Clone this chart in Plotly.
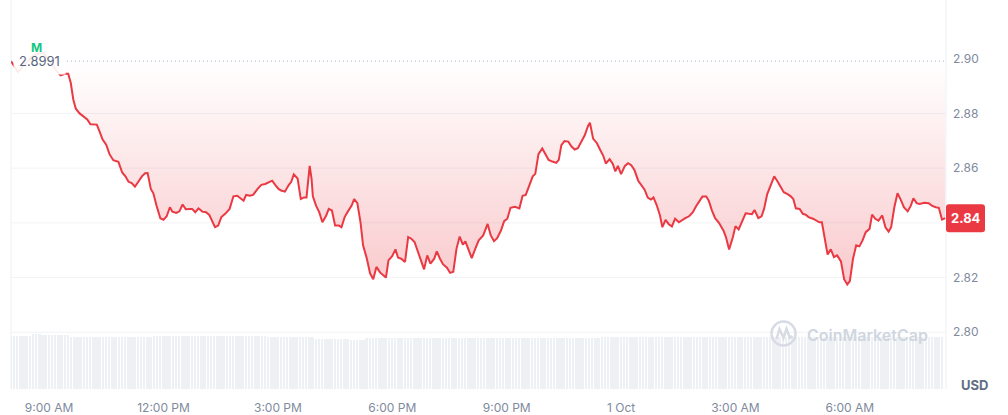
import datetime as dt
import plotly.graph_objects as go

# ---------------- data ----------------
start_time = dt.datetime(2024, 9, 30, 8, 0)
open_price = 2.8991          # 24h reference price (dotted baseline)

# minutes after 8:00 AM (30 Sep) and price in USD
price_minutes = [
    0, 6, 11, 20, 32, 42, 50, 60, 70, 78,
    85, 90, 94, 98, 102, 108, 114, 120, 125, 131,
    135, 139, 144, 150, 155, 161, 169, 175, 180, 185,
    190, 195, 200, 206, 211, 215, 220, 224, 229, 235,
    240, 245, 250, 254, 260, 265, 270, 275, 281, 285,
    290, 295, 301, 307, 312, 316, 321, 326, 331, 337,
    344, 350, 356, 366, 370, 376, 381, 388, 394, 400,
    406, 411, 416, 421, 425, 431, 437, 441, 445, 451,
    456, 461, 465, 470, 473, 475, 480, 485, 490, 496,
    500, 505, 510, 516, 520, 525, 530, 536, 540, 545,
    550, 554, 560, 565, 570, 575, 581, 586, 590, 594,
    600, 605, 609, 614, 620, 625, 630, 635, 641, 645,
    650, 655, 660, 666, 670, 675, 680, 686, 691, 696,
    701, 706, 711, 715, 720, 725, 731, 736, 743, 750,
    755, 760, 765, 771, 776, 781, 786, 793, 800, 805,
    810, 816, 821, 825, 830, 836, 841, 846, 852, 858,
    862, 866, 871, 877, 882, 887, 892, 898, 903, 908,
    911, 916, 922, 927, 932, 936, 942, 947, 951, 955,
    960, 966, 971, 976, 981, 987, 992, 997, 1002, 1007,
    1011, 1016, 1021, 1025, 1030, 1035, 1040, 1045, 1051, 1056,
    1061, 1067, 1073, 1078, 1083, 1088, 1094, 1098, 1103, 1108,
    1114, 1121, 1125, 1130, 1136, 1140, 1145, 1150, 1156, 1161,
    1166, 1170, 1176, 1181, 1185, 1190, 1195, 1201, 1206, 1211,
    1216, 1222, 1227, 1231, 1235, 1241, 1246, 1251, 1255, 1262,
    1267, 1272, 1276, 1280, 1285, 1290, 1295, 1300, 1306, 1311,
    1316, 1320, 1325, 1330, 1335, 1340, 1345, 1351, 1355, 1360,
    1365, 1371, 1376, 1381, 1385, 1390, 1395, 1400, 1405, 1411,
    1416, 1420, 1425, 1430, 1437, 1444, 1449, 1455, 1460, 1465,
    1470,
]
price_values = [
    2.8991, 2.8970, 2.8951, 2.8975, 2.9005, 2.9018, 2.9022, 2.8995, 2.8960, 2.8939,
    2.8945, 2.8945, 2.8912, 2.8851, 2.8817, 2.8800, 2.8790, 2.8778, 2.8760, 2.8758,
    2.8759, 2.8736, 2.8705, 2.8685, 2.8651, 2.8629, 2.8623, 2.8584, 2.8570, 2.8550,
    2.8545, 2.8532, 2.8550, 2.8570, 2.8581, 2.8582, 2.8524, 2.8508, 2.8463, 2.8417,
    2.8411, 2.8424, 2.8457, 2.8441, 2.8436, 2.8442, 2.8467, 2.8450, 2.8451, 2.8451,
    2.8439, 2.8453, 2.8441, 2.8439, 2.8429, 2.8408, 2.8384, 2.8390, 2.8421, 2.8433,
    2.8451, 2.8497, 2.8499, 2.8481, 2.8502, 2.8499, 2.8502, 2.8524, 2.8539, 2.8542,
    2.8548, 2.8554, 2.8538, 2.8524, 2.8518, 2.8514, 2.8538, 2.8550, 2.8577, 2.8562,
    2.8487, 2.8493, 2.8493, 2.8608, 2.8560, 2.8497, 2.8463, 2.8439, 2.8402, 2.8427,
    2.8451, 2.8445, 2.8390, 2.8390, 2.8384, 2.8421, 2.8441, 2.8463, 2.8487, 2.8472,
    2.8402, 2.8318, 2.8269, 2.8215, 2.8194, 2.8239, 2.8218, 2.8208, 2.8200, 2.8263,
    2.8279, 2.8303, 2.8273, 2.8269, 2.8257, 2.8348, 2.8342, 2.8330, 2.8293, 2.8261,
    2.8230, 2.8281, 2.8251, 2.8269, 2.8296, 2.8269, 2.8248, 2.8236, 2.8217, 2.8221,
    2.8305, 2.8350, 2.8320, 2.8332, 2.8305, 2.8271, 2.8308, 2.8336, 2.8354, 2.8396,
    2.8354, 2.8333, 2.8344, 2.8372, 2.8406, 2.8415, 2.8455, 2.8459, 2.8453, 2.8499,
    2.8502, 2.8542, 2.8570, 2.8579, 2.8651, 2.8672, 2.8651, 2.8630, 2.8624, 2.8619,
    2.8630, 2.8684, 2.8699, 2.8697, 2.8679, 2.8668, 2.8673, 2.8702, 2.8721, 2.8754,
    2.8766, 2.8708, 2.8691, 2.8667, 2.8645, 2.8617, 2.8633, 2.8615, 2.8588, 2.8608,
    2.8578, 2.8608, 2.8618, 2.8611, 2.8593, 2.8554, 2.8538, 2.8521, 2.8492, 2.8485,
    2.8493, 2.8465, 2.8429, 2.8384, 2.8411, 2.8395, 2.8387, 2.8415, 2.8402, 2.8410,
    2.8417, 2.8424, 2.8439, 2.8461, 2.8478, 2.8496, 2.8496, 2.8481, 2.8445, 2.8417,
    2.8400, 2.8372, 2.8348, 2.8303, 2.8348, 2.8388, 2.8376, 2.8402, 2.8435, 2.8433,
    2.8432, 2.8447, 2.8417, 2.8424, 2.8451, 2.8505, 2.8536, 2.8570, 2.8552, 2.8533,
    2.8512, 2.8505, 2.8497, 2.8487, 2.8453, 2.8451, 2.8433, 2.8429, 2.8421, 2.8415,
    2.8408, 2.8402, 2.8402, 2.8354, 2.8284, 2.8303, 2.8275, 2.8281, 2.8259, 2.8194,
    2.8175, 2.8187, 2.8269, 2.8318, 2.8314, 2.8336, 2.8366, 2.8378, 2.8430, 2.8415,
    2.8408, 2.8427, 2.8384, 2.8368, 2.8384, 2.8457, 2.8508, 2.8485, 2.8457, 2.8442,
    2.8463, 2.8490, 2.8472, 2.8469, 2.8473, 2.8472, 2.8463, 2.8457, 2.8455, 2.8412,
    2.8417,
]

# 24h volume bars, one every 5 minutes (millions USD), one row per hour
volume_step_minutes = 5
volume_values = [
    10.30, 10.30, 10.30, 10.30, 10.30, 10.30, 10.30, 10.56, 10.56, 10.56, 10.42, 10.42,
    10.42, 10.42, 10.42, 10.42, 10.42, 10.42, 10.42, 10.12, 10.12, 10.12, 10.12, 10.12,
    10.12, 10.12, 10.12, 10.12, 10.12, 10.12, 9.98, 9.98, 9.98, 9.98, 9.98, 9.98,
    9.98, 9.98, 9.98, 9.98, 9.98, 9.98, 9.98, 9.98, 9.98, 10.30, 10.30, 10.30,
    10.30, 10.30, 10.30, 10.30, 10.30, 10.30, 10.30, 10.30, 10.30, 10.30, 10.30, 10.30,
    10.30, 10.30, 10.30, 10.30, 10.30, 10.30, 10.30, 10.30, 10.30, 10.30, 10.30, 10.30,
    10.30, 10.30, 10.30, 10.30, 10.30, 10.30, 10.30, 10.30, 10.30, 10.12, 10.12, 10.12,
    10.12, 10.12, 10.12, 10.12, 10.12, 10.12, 10.12, 10.12, 10.12, 10.12, 10.12, 10.12,
    9.65, 9.65, 9.65, 9.65, 9.65, 9.65, 9.65, 9.65, 9.65, 9.65, 9.65, 9.46,
    9.46, 9.46, 9.46, 9.46, 9.79, 9.79, 9.79, 9.79, 9.79, 9.79, 9.79, 9.79,
    9.79, 9.79, 9.79, 9.79, 9.79, 9.79, 9.79, 9.79, 9.79, 9.79, 9.79, 9.79,
    9.79, 9.79, 9.79, 9.79, 9.79, 9.79, 9.79, 9.79, 9.79, 9.79, 9.79, 9.79,
    9.79, 9.79, 9.79, 9.79, 9.79, 9.79, 9.79, 9.79, 9.79, 9.79, 9.92, 9.92,
    9.92, 9.92, 9.92, 9.92, 9.92, 9.92, 9.92, 9.92, 9.92, 9.92, 9.92, 9.92,
    9.92, 9.92, 9.92, 9.92, 9.92, 9.92, 9.92, 9.92, 9.92, 9.92, 9.92, 9.92,
    9.92, 9.92, 9.92, 9.92, 9.92, 9.92, 10.12, 10.12, 10.12, 10.12, 10.12, 10.12,
    10.12, 10.12, 10.12, 10.12, 10.12, 10.12, 10.12, 10.12, 10.12, 10.12, 10.12, 10.12,
    10.12, 10.12, 10.12, 10.12, 10.12, 10.12, 10.12, 10.12, 10.12, 10.12, 10.12, 10.12,
    10.12, 10.12, 10.12, 10.12, 10.12, 10.12, 9.98, 9.98, 9.98, 9.98, 9.98, 9.98,
    9.98, 9.98, 9.98, 9.98, 9.98, 9.98, 9.98, 9.98, 9.98, 9.98, 9.98, 9.98,
    9.98, 9.98, 9.98, 9.98, 9.98, 9.98, 9.98, 9.98, 9.98, 9.98, 9.98, 9.98,
    9.98, 9.98, 9.98, 9.98, 9.98, 9.98, 9.98, 9.98, 9.98, 9.98, 9.98, 9.98,
    9.98, 9.98, 9.98, 9.98, 9.98, 9.98, 9.98, 9.98, 9.98, 9.98, 9.98, 9.98,
    9.98, 9.98, 9.98, 9.98, 9.98, 9.98, 9.98, 9.98, 9.98, 9.98, 9.98, 9.98,
    9.98, 9.98, 9.98, 9.98, 9.98, 9.98,
]

y_tick_values = [2.80, 2.82, 2.84, 2.86, 2.88, 2.90]
y_grid_values = [2.80, 2.82, 2.84, 2.86, 2.88]
x_tick_times = ["2024-09-30 09:00", "2024-09-30 12:00", "2024-09-30 15:00",
                "2024-09-30 18:00", "2024-09-30 21:00", "2024-10-01 00:00",
                "2024-10-01 03:00", "2024-10-01 06:00"]
x_tick_labels = ["9:00 AM", "12:00 PM", "3:00 PM", "6:00 PM", "9:00 PM",
                 "1 Oct", "3:00 AM", "6:00 AM"]

# ---------------- styling ----------------
RED = "#ea3943"
GREEN = "#16c784"
AXIS_TXT = "#808a9d"
DARK_TXT = "#58667e"
GRID = "#f1f3f6"
FONT = "Inter, Roboto, sans-serif"

price_times = [start_time + dt.timedelta(minutes=m) for m in price_minutes]
volume_times = [start_time + dt.timedelta(minutes=volume_step_minutes * i)
                for i in range(len(volume_values))]

y_min, y_max = 2.77927, 2.92145
x_end = start_time + dt.timedelta(minutes=1471.3)
last_val = price_values[-1]

fig = go.Figure()

# volume bars (secondary axis)
fig.add_trace(go.Bar(
    x=volume_times, y=volume_values, yaxis="y2",
    marker=dict(color="#eef1f4", line=dict(width=0)),
    width=volume_step_minutes * 60 * 1000 * 0.62,
    hoverinfo="skip", showlegend=False,
))

# invisible baseline for the fill
fig.add_trace(go.Scatter(
    x=price_times, y=[open_price] * len(price_times), mode="lines",
    line=dict(width=0, color="rgba(0,0,0,0)"), hoverinfo="skip", showlegend=False,
))

# price line with gradient fill to the baseline
fig.add_trace(go.Scatter(
    x=price_times, y=price_values, mode="lines",
    line=dict(color=RED, width=2),
    fill="tonexty",
    fillgradient=dict(
        type="vertical",
        colorscale=[[0, "rgba(234,57,67,0.27)"], [1, "rgba(234,57,67,0.0)"]],
        start=min(price_values), stop=open_price,
    ),
    hoverinfo="skip", showlegend=False,
))

shapes = []
for g in y_grid_values:
    shapes.append(dict(type="line", xref="paper", yref="y", x0=0, x1=1, y0=g, y1=g,
                       line=dict(color=GRID, width=1), layer="below"))
# plot frame verticals
for xp in (0, 1):
    shapes.append(dict(type="line", xref="paper", yref="paper", x0=xp, x1=xp, y0=0, y1=1,
                       line=dict(color="#eef0f3", width=1), layer="below"))
# dotted open-price line
shapes.append(dict(type="line", xref="paper", yref="y", x0=0, x1=1,
                   y0=open_price, y1=open_price,
                   line=dict(color="#a7b1c2", width=1, dash="1px,3px"), layer="above"))

# last-price tag (rounded red box)
yp = (last_val - y_min) / (y_max - y_min)
r = 3
w, h = 39, 28
box = (f"M {r},{-h/2} L {w-r},{-h/2} Q {w},{-h/2} {w},{-h/2+r} "
       f"L {w},{h/2-r} Q {w},{h/2} {w-r},{h/2} L {r},{h/2} Q 0,{h/2} 0,{h/2-r} "
       f"L 0,{-h/2+r} Q 0,{-h/2} {r},{-h/2} Z")
shapes.append(dict(type="path", xref="paper", yref="paper", xsizemode="pixel",
                   ysizemode="pixel", xanchor=1, yanchor=yp, path=box,
                   fillcolor=RED, line=dict(width=0), layer="above"))

# watermark logo circle + wave
wm_col = "#d6dbe4"
shapes.append(dict(type="circle", xref="paper", yref="paper", xsizemode="pixel",
                   ysizemode="pixel", xanchor=1, yanchor=0,
                   x0=-174.5, x1=-150.5, y0=43.5, y1=67.5,
                   line=dict(color=wm_col, width=2.5), layer="above"))
shapes.append(dict(type="path", xref="paper", yref="paper", xsizemode="pixel",
                   ysizemode="pixel", xanchor=1, yanchor=0,
                   path="M -169.5,50 L -166.5,60 L -162.5,51 L -159.5,60 L -156,51 L -153.5,53",
                   line=dict(color=wm_col, width=2.5), layer="above"))

annotations = [
    dict(text="2.84", xref="paper", yref="y", x=1, y=last_val, xanchor="center",
         yanchor="middle", xshift=19.5, showarrow=False,
         font=dict(family=FONT, size=13, color="white", weight="bold")),
    dict(text="2.8991", xref="paper", yref="y", x=0, y=open_price, xanchor="left",
         yanchor="middle", xshift=2, showarrow=False, bgcolor="rgba(255,255,255,0.9)",
         borderpad=5, font=dict(family=FONT, size=13, color=DARK_TXT)),
    dict(text="M", xref="x", yref="y", x=start_time + dt.timedelta(minutes=40),
         y=2.9042, xanchor="center", yanchor="middle", showarrow=False,
         font=dict(family=FONT, size=12, color=GREEN, weight="bold")),
    dict(text="USD", xref="paper", yref="paper", x=1, y=0, xanchor="center",
         yanchor="middle", xshift=28, yshift=4, showarrow=False,
         font=dict(family=FONT, size=13, color="#616e85", weight="bold")),
    dict(text="CoinMarketCap", xref="paper", yref="paper", x=1, y=0, xanchor="center",
         yanchor="middle", xshift=-78.5, yshift=54.5, showarrow=False,
         font=dict(family=FONT, size=16, color="#d0d6df", weight=600)),
]

# the 2.84 axis label sits under the last-price tag, as in the original
y_tick_text = ["" if abs(v - round(last_val, 2)) < 1e-9 else f"{v:.2f}" for v in y_tick_values]

fig.update_layout(
    width=1008, height=415,
    margin=dict(l=11, r=62, t=0, b=24),
    paper_bgcolor="white", plot_bgcolor="white",
    font=dict(family=FONT, color=AXIS_TXT),
    showlegend=False, bargap=0, hovermode=False,
    xaxis=dict(type="date", range=[start_time, x_end], showgrid=False, zeroline=False,
               tickvals=x_tick_times, ticktext=x_tick_labels, ticks="",
               tickfont=dict(size=12, color=AXIS_TXT), ticklabelstandoff=10,
               showline=False, fixedrange=True),
    yaxis=dict(range=[y_min, y_max], side="right", showgrid=False, zeroline=False,
               tickvals=y_tick_values, ticktext=y_tick_text,
               ticks="", tickfont=dict(size=12, color=AXIS_TXT), ticklabelstandoff=6,
               showline=False),
    yaxis2=dict(range=[0, 75], overlaying="y", visible=False),
    shapes=shapes, annotations=annotations,
)

fig.write_html("out.html", config={"displayModeBar": False},
               post_script="document.body.style.margin='0px';")
